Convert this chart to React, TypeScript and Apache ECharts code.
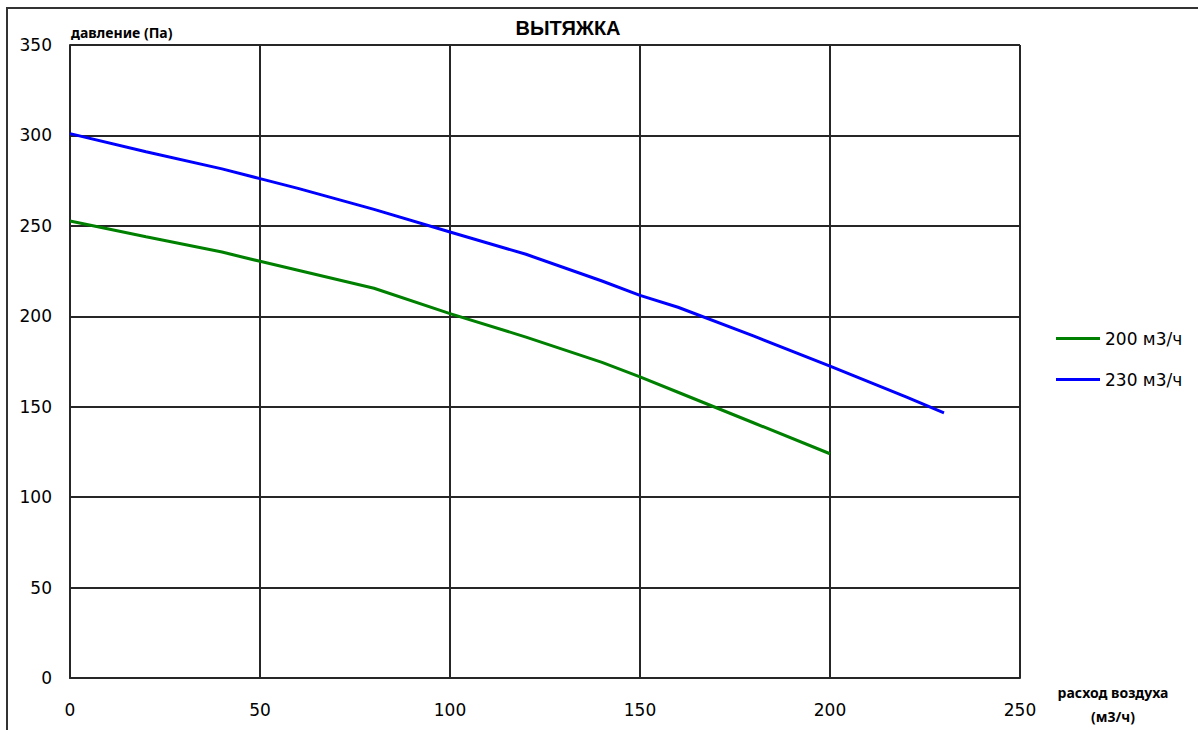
import React, { useEffect, useRef } from "react";
import * as echarts from "echarts";

const xTicks = [0, 50, 100, 150, 200, 250];
const yTicks = [0, 50, 100, 150, 200, 250, 300, 350];

const flow200 = [0, 20, 40, 50, 60, 80, 100, 120, 140, 150, 160, 180, 200];
const press200 = [252.7, 244, 235.5, 230.4, 225.5, 215.5, 201.5, 188.5, 174.5, 166.5, 158, 141, 124];

const flow230 = [0, 20, 40, 50, 60, 80, 100, 120, 140, 150, 160, 180, 200, 220, 230];
const press230 = [301, 291, 281.5, 276.1, 270.7, 259.1, 246.6, 234.3, 219.5, 211.6, 205, 189, 172.4, 155.5, 146.6];

const seriesNames = ["200 м3/ч", "230 м3/ч"];
const seriesColors = ["#008000", "#0000FF"];

const titleText = "ВЫТЯЖКА";
const yAxisTitle = "давление (Па)";
const xAxisTitle1 = "расход воздуха";
const xAxisTitle2 = "(м3/ч)";

const gridColor = "#262626";
const labelFont = "DejaVu Sans";

export default function App() {
  const ref = useRef<HTMLDivElement>(null);
  useEffect(() => {
    if (!ref.current) return;
    const chart = echarts.init(ref.current, undefined, { renderer: "svg" });
    const pairs = (xs: number[], ys: number[]) => xs.map((x, i) => [x, ys[i]]);
    chart.setOption({
      animation: false,
      backgroundColor: "#ffffff",
      grid: { left: 70, top: 45, right: 178, bottom: 52, containLabel: false },
      xAxis: {
        type: "value",
        min: xTicks[0],
        max: xTicks[xTicks.length - 1],
        interval: 50,
        axisLine: { show: true, lineStyle: { color: gridColor, width: 2 } },
        axisTick: { show: false },
        axisLabel: { color: "#000", fontFamily: labelFont, fontSize: 17, margin: 23 },
        splitLine: { show: true, lineStyle: { color: gridColor, width: 2 } },
      },
      yAxis: {
        type: "value",
        min: yTicks[0],
        max: yTicks[yTicks.length - 1],
        interval: 50,
        axisLine: { show: true, lineStyle: { color: gridColor, width: 2 } },
        axisTick: { show: false },
        axisLabel: { color: "#000", fontFamily: labelFont, fontSize: 17, margin: 18 },
        splitLine: { show: true, lineStyle: { color: gridColor, width: 2 } },
      },
      legend: {
        orient: "vertical",
        left: 1051,
        top: 325,
        itemWidth: 44,
        itemHeight: 3,
        itemGap: 24,
        icon: "rect",
        textStyle: { color: "#000", fontFamily: labelFont, fontSize: 17 },
        data: seriesNames,
      },
      series: [
        {
          name: seriesNames[0],
          type: "line",
          data: pairs(flow200, press200),
          symbol: "none",
          lineStyle: { color: seriesColors[0], width: 3 },
          itemStyle: { color: seriesColors[0] },
        },
        {
          name: seriesNames[1],
          type: "line",
          data: pairs(flow230, press230),
          symbol: "none",
          lineStyle: { color: seriesColors[1], width: 3 },
          itemStyle: { color: seriesColors[1] },
        },
      ],
      graphic: [
        {
          type: "rect",
          shape: { x: 7, y: 8, width: 1400, height: 900 },
          style: { fill: "none", stroke: "#333", lineWidth: 2 },
          silent: true,
        },
        {
          type: "text",
          x: 568,
          y: 28,
          style: {
            text: titleText,
            fill: "#000",
            font: "bold 20px 'Liberation Sans'",
            textAlign: "center",
            textVerticalAlign: "middle",
          },
        },
        {
          type: "text",
          x: 71,
          y: 32,
          style: {
            text: yAxisTitle,
            fill: "#000",
            font: "bold 14px 'Noto Sans'",
            textAlign: "left",
            textVerticalAlign: "middle",
          },
        },
        {
          type: "text",
          x: 1113,
          y: 692,
          style: {
            text: xAxisTitle1,
            fill: "#000",
            font: "bold 14px 'Noto Sans'",
            textAlign: "center",
            textVerticalAlign: "middle",
          },
        },
        {
          type: "text",
          x: 1113,
          y: 716,
          style: {
            text: xAxisTitle2,
            fill: "#000",
            font: "bold 14px 'Noto Sans'",
            textAlign: "center",
            textVerticalAlign: "middle",
          },
        },
      ],
    });
    return () => chart.dispose();
  }, []);
  return (
    <div
      ref={ref}
      style={{ position: "absolute", left: 0, top: 0, width: 1198, height: 730 }}
    />
  );
}
